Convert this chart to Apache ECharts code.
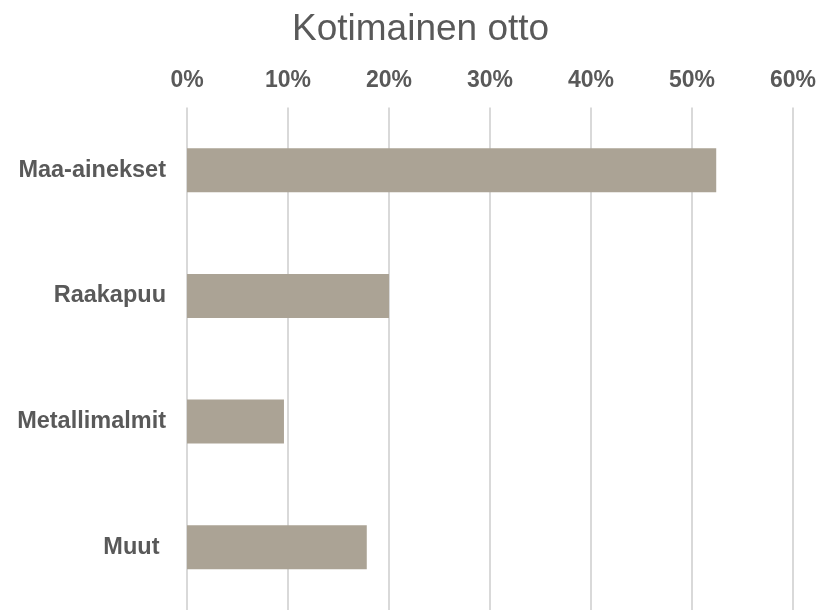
<!DOCTYPE html>
<html>
<head>
<meta charset="utf-8">
<script src="https://cdn.jsdelivr.net/npm/echarts@6/dist/echarts.min.js"></script>
<style>
    html, body { margin: 0; padding: 0; background: #fff; }
    #chart { width: 819px; height: 610px; }
</style>
</head>
<body>
<div id="chart"></div>
<script>
// data
var categories = ['Maa-ainekset', 'Raakapuu', 'Metallimalmit', 'Muut '];
var shares = [52.4, 20.0, 9.6, 17.8];
var tickMax = 60;
var tickStep = 10;

var chart = echarts.init(document.getElementById('chart'));

var option = {
    animation: false,
    title: {
        text: 'Kotimainen otto',
        left: 292,
        top: 11,
        padding: 0,
        textStyle: {
            fontFamily: 'Liberation Sans, Arial, sans-serif',
            fontSize: 37,
            fontWeight: 'normal',
            color: '#595959'
        }
    },
    grid: {
        left: 187,
        right: 26,
        top: 107.5,
        bottom: -3,
        containLabel: false
    },
    xAxis: {
        type: 'value',
        position: 'top',
        min: 0,
        max: tickMax,
        interval: tickStep,
        axisLine: { show: false },
        axisTick: { show: false },
        axisLabel: {
            margin: 15,
            formatter: '{value}%',
            fontFamily: 'Liberation Sans, Arial, sans-serif',
            fontSize: 23,
            fontWeight: 'bold',
            color: '#595959'
        },
        splitLine: {
            show: true,
            lineStyle: { color: '#d9d9d9', width: 2 }
        }
    },
    yAxis: {
        type: 'category',
        inverse: true,
        data: categories,
        axisLine: { show: false },
        axisTick: { show: false },
        axisLabel: {
            margin: 21,
            fontFamily: 'Liberation Sans, Arial, sans-serif',
            fontSize: 23.5,
            fontWeight: 'bold',
            color: '#595959'
        }
    },
    series: [
        {
            type: 'bar',
            data: shares,
            barWidth: '35%',
            itemStyle: { color: '#aba395' }
        }
    ]
};

chart.setOption(option);
</script>
</body>
</html>
